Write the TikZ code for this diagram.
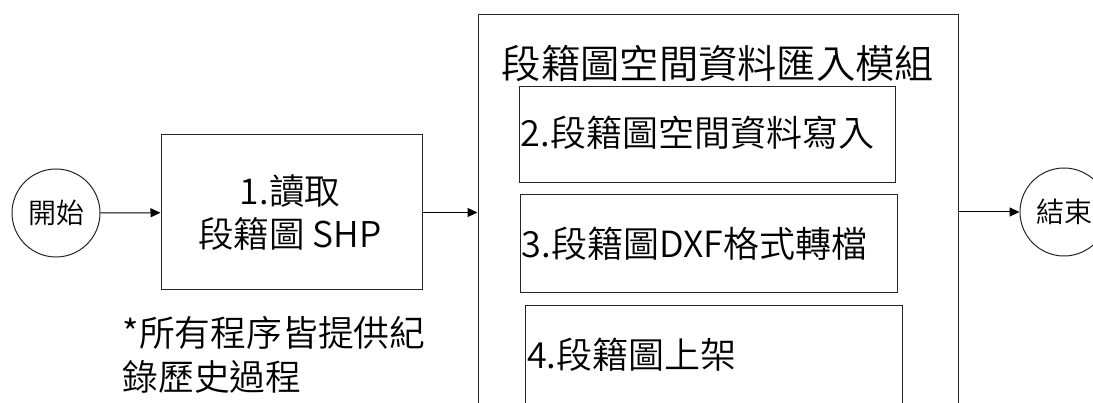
\documentclass[tikz,border=0pt]{standalone}
\usepackage{fontspec}
\IfFontExistsTF{Noto Sans CJK TC DemiLight}{\setmainfont{Noto Sans CJK TC DemiLight}}{\setmainfont{Noto Sans CJK TC}}
\usetikzlibrary{arrows.meta,shapes.geometric}
\tikzset{
  line/.style={draw=black!85, line width=1pt},
  term/.style={line, circle, minimum size=88pt, inner sep=0pt, font=\fontsize{28}{32}\selectfont},
  proc/.style={line, rectangle, inner sep=0pt},
  lbl/.style={inner sep=2pt, anchor=west, font=\fontsize{36}{42}\selectfont},
  conn/.style={draw=black, line width=1pt, -{Triangle[length=10pt,width=9pt]}}
}
\begin{document}
\begin{tikzpicture}[x=1pt,y=-1pt]
\useasboundingbox (0,0) rectangle (1093,403);
\clip (0,0) rectangle (1093,403);
\fill[white] (0,0) rectangle (1093,403);
\node[term] (start) at (56,213) {開始};
\node[proc, minimum width=261pt, minimum height=155pt] (b1) at (291.5,212.5) {};
\node[align=center, font=\fontsize{35.5}{43}\selectfont] (b1t) at (290,213) {1.讀取\\段籍圖 SHP};
\node[proc, minimum width=480pt, minimum height=420pt] (big) at (718,225) {};
\node[font=\fontsize{39.3}{44}\selectfont] (title) at (718,63) {段籍圖空間資料匯入模組};
\node[proc, minimum width=376pt, minimum height=96pt] (b2) at (707,135) {};
\node[lbl] (b2t) at ([yshift=2pt]b2.west) {2.段籍圖空間資料寫入};
\node[proc, minimum width=377pt, minimum height=98pt] (b3) at (708.5,244) {};
\node[lbl] (b3t) at (b3.west) {3.段籍圖DXF格式轉檔};
\node[proc, minimum width=377pt, minimum height=114pt] (b4) at (713.5,363) {};
\node[lbl] (b4t) at (525,355) {4.段籍圖上架};
\node[term] (end) at (1064,212) {結束};
\node[align=left, anchor=west, font=\fontsize{35.8}{44}\selectfont] (note) at (119,355) {*所有程序皆提供紀\\錄歷史過程};
\draw[conn] (start) -- (b1);
\draw[conn] (b1.east) -- (b1.east -| big.west);
\draw[conn] (big.east |- end.west) -- (end.west);
\end{tikzpicture}
\end{document}
